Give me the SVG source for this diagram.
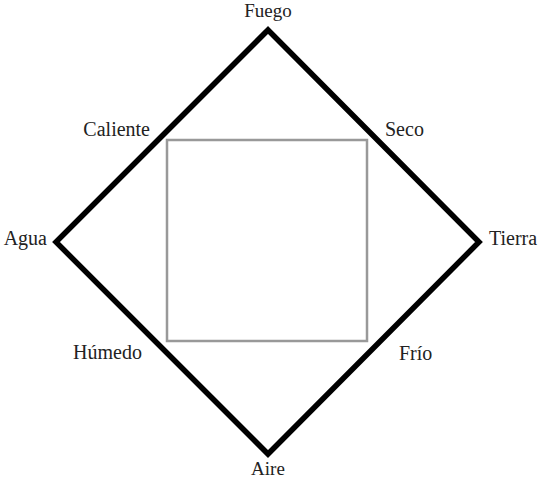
<svg xmlns="http://www.w3.org/2000/svg" width="540" height="480" viewBox="0 0 540 480">
  <style>
    .lbl { font-family: "Liberation Serif", "Times New Roman", serif; font-size: 20px; fill: #222; }
    .edge { font-size: 19px; }
    .outer { fill: none; stroke: #000; stroke-width: 5.5; stroke-linejoin: miter; }
    .inner { fill: none; stroke: #999; stroke-width: 2.5; }
  </style>
  <rect width="540" height="480" fill="#fff"/>
  <g id="shapes">
    <polygon id="diamond" class="outer" points="268,30 479,242 268,454 56,242"/>
    <rect id="square" class="inner" x="167" y="140" width="200" height="201"/>
  </g>
  <g id="labels">
    <text id="fuego" class="lbl edge" x="268" y="17" text-anchor="middle">Fuego</text>
    <text id="caliente" class="lbl" x="150" y="136" text-anchor="end">Caliente</text>
    <text id="seco" class="lbl" x="385" y="136">Seco</text>
    <text id="agua" class="lbl" x="47" y="245" text-anchor="end">Agua</text>
    <text id="tierra" class="lbl" x="489" y="245">Tierra</text>
    <text id="humedo" class="lbl" x="142" y="359" text-anchor="end">Húmedo</text>
    <text id="frio" class="lbl" x="399" y="360">Frío</text>
    <text id="aire" class="lbl edge" x="268" y="475" text-anchor="middle">Aire</text>
  </g>
</svg>
